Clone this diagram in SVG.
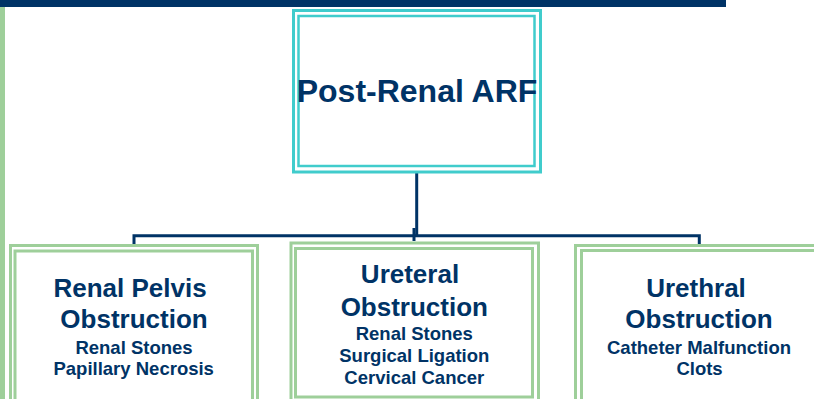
<svg xmlns="http://www.w3.org/2000/svg" width="814" height="399" viewBox="0 0 814 399">
<style>
.teal{fill:none;stroke:#40CCCC}
.green{fill:none;stroke:#9ECF9A}
.t{font-family:"Liberation Sans",Arial,sans-serif;font-weight:bold;fill:#003366;text-anchor:middle}
.big{font-size:26px}
.small{font-size:18.5px}
.conn{fill:none;stroke:#003366;stroke-width:3}
</style>
<rect x="0" y="0" width="726" height="7" fill="#003366"/>
<rect x="0" y="7" width="5" height="392" fill="#9ECF9A"/>
<g id="connectors">
<line class="conn" x1="416.7" y1="173" x2="416.7" y2="236"/>
<polyline class="conn" points="134,246 134,235.7 699.3,235.7 699.3,246"/>
<line class="conn" x1="414" y1="228" x2="414" y2="241" stroke-width="3.5"/>
</g>
<g id="root">
<rect class="teal" x="293.5" y="10.5" width="247" height="161.5" stroke-width="3"/>
<rect class="teal" x="298.5" y="16" width="236" height="150" stroke-width="2.5"/>
<text class="t" x="417" y="102" font-size="32">Post-Renal ARF</text>
</g>
<g id="renal-pelvis">
<rect class="green" x="10.5" y="245.5" width="247" height="170" stroke-width="3"/>
<rect class="green" x="15" y="251" width="237.5" height="160" stroke-width="3"/>
<text class="t big" x="130" y="296.7">Renal Pelvis</text>
<text class="t big" x="134" y="328.3">Obstruction</text>
<text class="t small" x="134" y="354">Renal Stones</text>
<text class="t small" x="133.7" y="375">Papillary Necrosis</text>
</g>
<g id="ureteral">
<rect class="green" x="291" y="243" width="247.5" height="162" stroke-width="3"/>
<rect class="green" x="295.5" y="248.5" width="237" height="148.5" stroke-width="3"/>
<text class="t big" x="410" y="283.3">Ureteral</text>
<text class="t big" x="414.3" y="315.7">Obstruction</text>
<text class="t small" x="414.3" y="340">Renal Stones</text>
<text class="t small" x="414.3" y="362.3">Surgical Ligation</text>
<text class="t small" x="414.3" y="384">Cervical Cancer</text>
</g>
<g id="urethral">
<rect class="green" x="575.5" y="245.5" width="260" height="170" stroke-width="3"/>
<rect class="green" x="581.5" y="250.5" width="250" height="160" stroke-width="3"/>
<text class="t big" x="696" y="296.7">Urethral</text>
<text class="t big" x="699" y="327.7">Obstruction</text>
<text class="t small" x="699" y="354">Catheter Malfunction</text>
<text class="t small" x="699.5" y="375">Clots</text>
</g>
</svg>
